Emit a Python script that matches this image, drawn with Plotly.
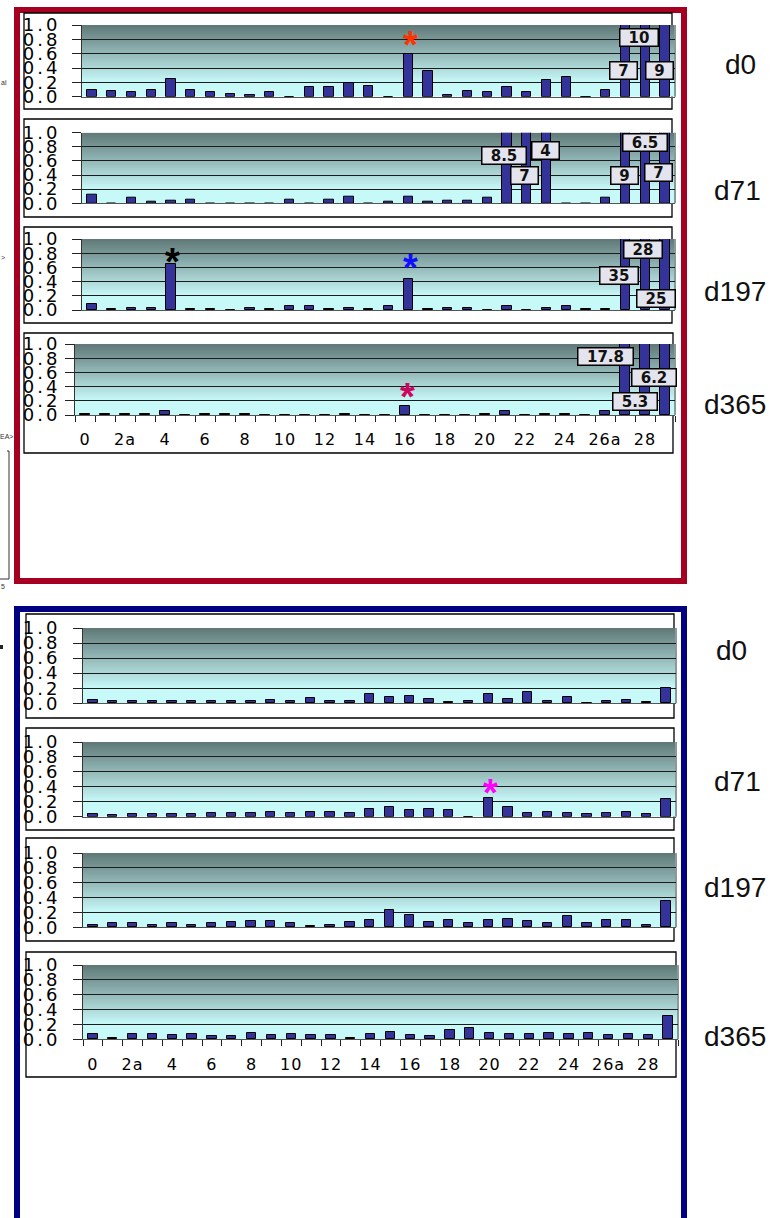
import plotly.graph_objects as go

W, H = 780, 1218

# ---------------- data ----------------
categories = ["0", "1", "2a", "3", "4", "5", "6", "7", "8", "9", "10", "11", "12", "13",
              "14", "15", "16", "17", "18", "19", "20", "21", "22", "23", "24", "25",
              "26a", "27", "28", "29"]
tick_labels = ["0", "2a", "4", "6", "8", "10", "12", "14", "16", "18", "20", "22", "24", "26a", "28"]
y_ticks = [0.0, 0.2, 0.4, 0.6, 0.8, 1.0]
day_labels = ["d0", "d71", "d197", "d365"]

top_d0 = [0.09, 0.08, 0.06, 0.10, 0.24, 0.09, 0.06, 0.04, 0.02, 0.06, 0, 0.13, 0.13, 0.19, 0.15,
          0, 0.59, 0.36, 0.02, 0.08, 0.07, 0.13, 0.07, 0.23, 0.28, 0, 0.09, 7, 10, 9]
top_d71 = [0.12, 0, 0.08, 0.02, 0.03, 0.05, 0, 0, 0, 0, 0.05, 0, 0.05, 0.10, 0,
           0.02, 0.09, 0.02, 0.03, 0.03, 0.08, 8.5, 7, 4, 0, 0, 0.08, 9, 6.5, 7]
top_d197 = [0.09, 0.015, 0.03, 0.03, 0.65, 0.015, 0.015, 0, 0.03, 0.02, 0.05, 0.06, 0.02, 0.03, 0.02,
            0.05, 0.43, 0.02, 0.03, 0.03, 0, 0.06, 0, 0.03, 0.06, 0.02, 0.02, 35, 28, 25]
top_d365 = [0.01, 0.01, 0.01, 0.01, 0.06, 0, 0.01, 0.01, 0.01, 0, 0, 0, 0, 0.01, 0,
            0, 0.13, 0, 0, 0, 0.01, 0.05, 0, 0.01, 0.01, 0, 0.05, 17.8, 5.3, 6.2]
bot_d0 = [0.05, 0.03, 0.03, 0.03, 0.03, 0.03, 0.03, 0.03, 0.035, 0.05, 0.035, 0.065, 0.035, 0.035, 0.125,
          0.08, 0.095, 0.06, 0.015, 0.03, 0.12, 0.06, 0.155, 0.03, 0.08, 0, 0.03, 0.05, 0.015, 0.20]
bot_d71 = [0.035, 0.02, 0.035, 0.035, 0.035, 0.035, 0.05, 0.05, 0.053, 0.067, 0.053, 0.067, 0.067, 0.053, 0.10,
           0.13, 0.085, 0.10, 0.085, 0, 0.25, 0.13, 0.05, 0.067, 0.05, 0.035, 0.05, 0.067, 0.035, 0.24]
bot_d197 = [0.036, 0.054, 0.054, 0.036, 0.054, 0.036, 0.054, 0.072, 0.086, 0.086, 0.054, 0.018, 0.036, 0.072, 0.10,
            0.23, 0.16, 0.068, 0.10, 0.054, 0.10, 0.117, 0.086, 0.054, 0.15, 0.054, 0.10, 0.10, 0.036, 0.35]
bot_d365 = [0.07, 0.018, 0.07, 0.07, 0.06, 0.07, 0.045, 0.045, 0.09, 0.06, 0.07, 0.06, 0.06, 0.02, 0.068,
            0.10, 0.06, 0.04, 0.12, 0.15, 0.086, 0.072, 0.072, 0.086, 0.072, 0.086, 0.054, 0.072, 0.054, 0.32]

series = [top_d0, top_d71, top_d197, top_d365, bot_d0, bot_d71, bot_d197, bot_d365]

# off-scale value boxes: (panel, bar index, x offset in categories, y level)
value_boxes = [
    (0, 27, -0.1, 0.37), (0, 28, -0.3, 0.82), (0, 29, -0.26, 0.36),
    (1, 21, -0.15, 0.68), (1, 22, -0.12, 0.39), (1, 23, -0.03, 0.75),
    (1, 27, -0.06, 0.39), (1, 28, -0.02, 0.86), (1, 29, -0.31, 0.44),
    (2, 27, -0.31, 0.49), (2, 28, -0.1, 0.85), (2, 29, -0.47, 0.16),
    (3, 27, -1.0, 0.83), (3, 28, -0.5, 0.19), (3, 29, -0.55, 0.535),
]
# significance stars: (panel, bar index, y level, colour)
stars = [
    (0, 16, 0.80, "#FF3300"),
    (2, 4, 0.76, "#000000"),
    (2, 16, 0.67, "#1010FF"),
    (3, 16, 0.345, "#CC0660"),
    (5, 20, 0.40, "#FF00FF"),
]

# ---------------- layout geometry (pixels) ----------------
# plot area: x0, x1, y(1.0), y(0.0)
plot_px = [
    (82, 675, 25, 96.7), (82, 675, 132.7, 203.3), (82, 675, 239, 310), (75, 675, 344, 415),
    (83, 676, 628, 703.3), (83, 676, 742, 816.7), (83, 676, 853, 927.3), (83, 678, 965, 1039.3),
]
# white panel frames: x0, x1, y0, y1
frame_px = [
    (24, 672, 13, 109), (24, 672, 119, 217), (24, 672, 227, 323), (24, 673, 333, 453),
    (26, 674, 614, 718), (26, 674, 728, 830), (26, 674, 838, 941), (26, 676, 952, 1077),
]
day_label_pos = [(740, 66), (737, 192), (735, 292), (735, 405),
                 (731, 651), (737, 782), (735, 888), (735, 1037)]


def px_x(v):
    return v / W


def px_y(v):
    return 1 - v / H


def spaced(txt, ls):
    return f'<span style="letter-spacing:{ls}px">{txt}</span>'


TICK_FONT = dict(family="DejaVu Sans, Arial", size=18, color="#000000")

fig = go.Figure()
layout = dict(
    width=W, height=H, autosize=False,
    margin=dict(l=0, r=0, t=0, b=0, pad=0, autoexpand=False),
    paper_bgcolor="white", plot_bgcolor="rgba(0,0,0,0)",
    showlegend=False, bargap=0,
)
shapes = []
annotations = []

# outer coloured frames
shapes.append(dict(type="rect", xref="paper", yref="paper", layer="below",
                   x0=px_x(17), x1=px_x(684), y0=px_y(10), y1=px_y(581),
                   line=dict(color="#A50021", width=6), fillcolor="rgba(0,0,0,0)"))
shapes.append(dict(type="rect", xref="paper", yref="paper", layer="below",
                   x0=px_x(17), x1=px_x(684), y0=px_y(609), y1=px_y(1240),
                   line=dict(color="#000080", width=6), fillcolor="rgba(0,0,0,0)"))

for fx0, fx1, fy0, fy1 in frame_px:
    shapes.append(dict(type="rect", xref="paper", yref="paper", layer="below",
                       x0=px_x(fx0), x1=px_x(fx1), y0=px_y(fy0), y1=px_y(fy1),
                       line=dict(color="#000000", width=1.3), fillcolor="white"))

top_rgb = (95, 120, 119)
low_rgb = (200, 249, 249)
NSTRIP = 32

xs = list(range(len(categories)))
tick_idx = [categories.index(t) for t in tick_labels]

for n, vals in enumerate(series):
    k = n + 1
    xa = "x" if k == 1 else f"x{k}"
    ya = "y" if k == 1 else f"y{k}"
    x0, x1, yt, yb = plot_px[n]
    bottom_axis = n in (3, 7)
    # keep the y tick labels' right edge near x = 62 px
    standoff = 8 - (82 - x0)

    xaxis = dict(domain=[px_x(x0), px_x(x1)], anchor=ya, range=[-0.5, len(categories) - 0.5],
                 showgrid=False, zeroline=False, showline=True, linecolor="#555555", linewidth=1,
                 ticks="", fixedrange=True, automargin=False)
    if bottom_axis:
        xaxis.update(tickmode="array", tickvals=tick_idx,
                     ticktext=[spaced(t, 1) for t in tick_labels],
                     tickfont=dict(family="DejaVu Sans, Arial", size=16, color="#000000"),
                     ticklabelstandoff=10,
                     minor=dict(tickmode="array", tickvals=[i - 0.5 for i in range(len(categories) + 1)],
                                ticks="outside", ticklen=6, tickwidth=1, tickcolor="#222222",
                                showgrid=False))
    else:
        xaxis.update(showticklabels=False)
    yaxis = dict(domain=[px_y(yb), px_y(yt)], anchor=xa, range=[0, 1],
                 tickmode="array", tickvals=y_ticks,
                 ticktext=[spaced(f"{v:.1f}", 3) for v in y_ticks],
                 showgrid=True, gridcolor="#1c1c1c", gridwidth=1,
                 ticks="outside", ticklen=9, tickwidth=1, tickcolor="#222222",
                 showline=True, linecolor="#333333", linewidth=1, zeroline=False,
                 tickfont=TICK_FONT, ticklabelstandoff=standoff, fixedrange=True, automargin=False)
    layout["xaxis" if k == 1 else f"xaxis{k}"] = xaxis
    layout["yaxis" if k == 1 else f"yaxis{k}"] = yaxis

    # gradient background (overlapping strips, drawn bottom-up, to avoid seams)
    dref_x = f"{xa} domain"
    shapes.append(dict(type="rect", xref=dref_x, yref=ya, layer="below",
                       x0=0, x1=1, y0=0, y1=0.25, line=dict(width=0),
                       fillcolor=f"rgb{low_rgb}"))
    step = 0.8 / NSTRIP
    for s in range(NSTRIP):
        fm = (s + 0.5) / NSTRIP
        c = tuple(int(round(low_rgb[j] + (top_rgb[j] - low_rgb[j]) * fm)) for j in range(3))
        y0s = 0.2 + step * s
        y1s = min(1.0, y0s + 2.5 * step)
        shapes.append(dict(type="rect", xref=dref_x, yref=ya, layer="below",
                           x0=0, x1=1, y0=y0s, y1=y1s,
                           line=dict(width=0), fillcolor=f"rgb{c}"))
    shapes.append(dict(type="line", xref=dref_x, yref=f"{ya} domain", layer="below",
                       x0=1, x1=1, y0=0, y1=1, line=dict(color="#8a9a9a", width=2)))

    fig.add_trace(go.Bar(x=xs, y=vals, xaxis=xa, yaxis=ya, width=0.47,
                         marker=dict(color="#333399", line=dict(color="#000000", width=1)),
                         hovertext=categories, cliponaxis=True))

    lx, ly = day_label_pos[n]
    annotations.append(dict(xref="paper", yref="paper", x=px_x(lx), y=px_y(ly - 1),
                            text=day_labels[n % 4], showarrow=False,
                            xanchor="center", yanchor="middle",
                            font=dict(family="Liberation Sans, Arial", size=28, color="#111111")))

for p, idx, dx, yl in value_boxes:
    k = p + 1
    xa = "x" if k == 1 else f"x{k}"
    ya = "y" if k == 1 else f"y{k}"
    v = series[p][idx]
    txt = f"{v:g}"
    w = 11 * sum(ch.isdigit() for ch in txt) + 6 * txt.count(".") + 15
    annotations.append(dict(xref=xa, yref=ya, x=idx + dx, y=yl, text=f"<b>{txt}</b>",
                            showarrow=False, xanchor="center", yanchor="middle",
                            width=w, height=16, borderpad=0,
                            bgcolor="#E4E4EE", bordercolor="#000000", borderwidth=1.5,
                            font=dict(family="DejaVu Sans, Arial", size=15, color="#111111")))

for p, idx, yl, col in stars:
    k = p + 1
    xa = "x" if k == 1 else f"x{k}"
    ya = "y" if k == 1 else f"y{k}"
    annotations.append(dict(xref=xa, yref=ya, x=idx + 0.1, y=yl, text="<b>*</b>",
                            showarrow=False, xanchor="center", yanchor="middle", yshift=-6,
                            font=dict(family="Liberation Sans, Arial", size=38, color=col)))

# clipped fragments of a neighbouring figure at the left edge
for tx, ty, t in [(4, 82, "al"), (3, 258, ">"), (7, 437, "EA>"), (3, 586, "5")]:
    annotations.append(dict(xref="paper", yref="paper", x=px_x(tx), y=px_y(ty), text=t,
                            showarrow=False, xanchor="center", yanchor="middle",
                            font=dict(family="Liberation Sans, Arial", size=7, color="#333333")))
shapes.append(dict(type="path", xref="paper", yref="paper", layer="below",
                   path=f"M {px_x(7)},{px_y(451)} L {px_x(9)},{px_y(451)} L {px_x(9)},{px_y(579)} L {px_x(0)},{px_y(579)}",
                   line=dict(color="#333333", width=1)))
shapes.append(dict(type="rect", xref="paper", yref="paper", layer="below",
                   x0=0, x1=px_x(3), y0=px_y(649), y1=px_y(645),
                   line=dict(width=0), fillcolor="#222222"))

layout["shapes"] = shapes
layout["annotations"] = annotations
fig.update_layout(**layout)
fig.write_html("out.html", config={"displayModeBar": False},
               post_script="document.body.style.margin='0px';")
